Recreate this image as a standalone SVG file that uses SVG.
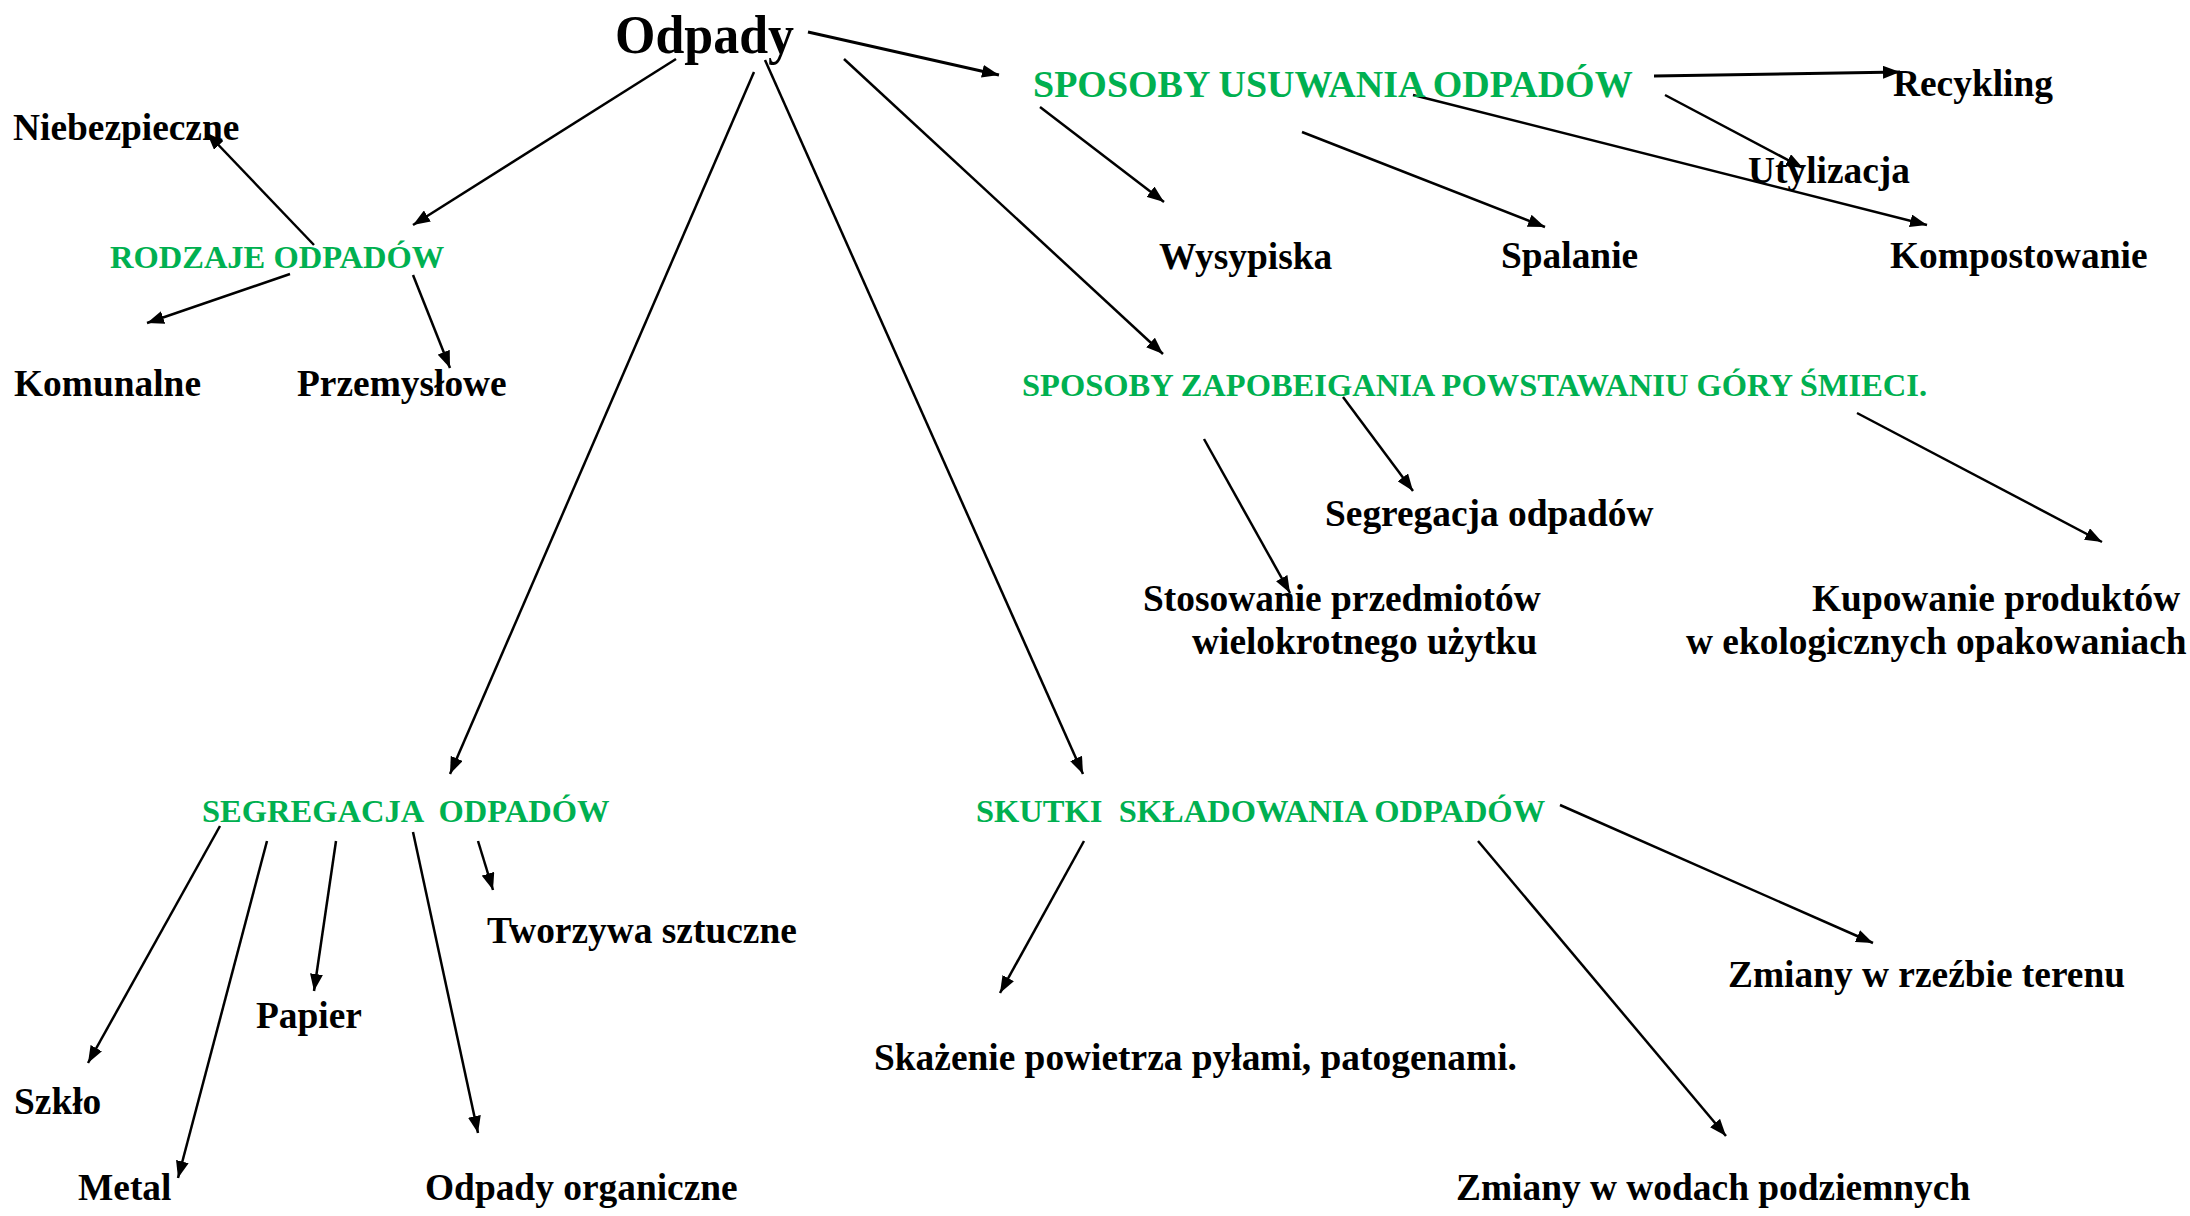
<svg xmlns="http://www.w3.org/2000/svg" width="2190" height="1216" viewBox="0 0 2190 1216">
<style>
text{font-family:"Liberation Serif","Times New Roman",serif;font-weight:bold}
.lbl{font-size:37.4px;fill:#000}
.hd{font-size:32.5px;fill:#00B050}
.hdl{font-size:38px;fill:#00B050}
.c line{stroke:#000;stroke-width:2.5;marker-end:url(#ah)}
.c line.t{stroke-width:3}
</style>
<defs>
<marker id="ah" markerUnits="userSpaceOnUse" markerWidth="17" markerHeight="13" refX="17" refY="6.5" orient="auto">
<path d="M0,0 L17,6.5 L0,13 z" fill="#000"/>
</marker>
</defs>
<rect width="2190" height="1216" fill="#fff"/>
<g id="connectors" class="c">
<line class="t" x1="808" y1="32" x2="999" y2="75"/>
<line x1="676" y1="59" x2="413" y2="225"/>
<line x1="754" y1="72" x2="450" y2="774"/>
<line x1="765" y1="60" x2="1083" y2="774"/>
<line x1="844" y1="59" x2="1163" y2="354"/>
<line x1="314" y1="245" x2="207" y2="133"/>
<line x1="290" y1="274" x2="147" y2="323"/>
<line x1="413" y1="275" x2="450" y2="368"/>
<line class="t" x1="1654" y1="76" x2="1900" y2="72"/>
<line x1="1665" y1="95" x2="1803" y2="168"/>
<line x1="1413" y1="95" x2="1927" y2="225"/>
<line x1="1040" y1="107" x2="1164" y2="202"/>
<line x1="1302" y1="132" x2="1545" y2="227"/>
<line x1="1343" y1="397" x2="1413" y2="491"/>
<line x1="1204" y1="439" x2="1290" y2="593"/>
<line x1="1857" y1="413" x2="2102" y2="542"/>
<line x1="220" y1="826" x2="88" y2="1063"/>
<line x1="267" y1="841" x2="178" y2="1178"/>
<line x1="336" y1="841" x2="314" y2="991"/>
<line x1="413" y1="832" x2="478" y2="1133"/>
<line x1="478" y1="841" x2="493" y2="890"/>
<line x1="1084" y1="841" x2="1000" y2="993"/>
<line x1="1478" y1="841" x2="1726" y2="1136"/>
<line x1="1560" y1="805" x2="1873" y2="943"/>
</g>
<g id="odpady"><text x="615" y="53" font-size="55" textLength="179" lengthAdjust="spacingAndGlyphs">Odpady</text></g>
<g id="rodzaje"><text class="hd" x="110" y="268">RODZAJE ODPADÓW</text></g>
<g id="niebezpieczne"><text class="lbl" x="13" y="140">Niebezpieczne</text></g>
<g id="komunalne"><text class="lbl" x="14" y="396">Komunalne</text></g>
<g id="przemyslowe"><text class="lbl" x="297" y="396">Przemysłowe</text></g>
<g id="usuwanie"><text class="hdl" x="1033" y="97">SPOSOBY USUWANIA ODPADÓW</text></g>
<g id="recykling"><text class="lbl" x="1893" y="96">Recykling</text></g>
<g id="utylizacja"><text class="lbl" x="1748" y="183">Utylizacja</text></g>
<g id="wysypiska"><text class="lbl" x="1159" y="269">Wysypiska</text></g>
<g id="spalanie"><text class="lbl" x="1501" y="268">Spalanie</text></g>
<g id="kompostowanie"><text class="lbl" x="1890" y="268">Kompostowanie</text></g>
<g id="zapobieganie"><text class="hd" x="1022" y="396">SPOSOBY ZAPOBEIGANIA POWSTAWANIU GÓRY ŚMIECI.</text></g>
<g id="segregacja-odpadow"><text class="lbl" x="1325" y="526">Segregacja odpadów</text></g>
<g id="stosowanie"><text class="lbl" x="1143" y="611">Stosowanie przedmiotów</text><text class="lbl" x="1192" y="654">wielokrotnego użytku</text></g>
<g id="kupowanie"><text class="lbl" x="1812" y="611">Kupowanie produktów</text><text class="lbl" x="1686" y="654">w ekologicznych opakowaniach</text></g>
<g id="segregacja"><text class="hd" x="202" y="822" xml:space="preserve">SEGREGACJA  ODPADÓW</text></g>
<g id="tworzywa"><text class="lbl" x="487" y="943">Tworzywa sztuczne</text></g>
<g id="papier"><text class="lbl" x="256" y="1028">Papier</text></g>
<g id="szklo"><text class="lbl" x="14" y="1114">Szkło</text></g>
<g id="metal"><text class="lbl" x="78" y="1200">Metal</text></g>
<g id="organiczne"><text class="lbl" x="425" y="1200">Odpady organiczne</text></g>
<g id="skutki"><text class="hd" x="976" y="822" xml:space="preserve">SKUTKI  SKŁADOWANIA ODPADÓW</text></g>
<g id="skazenie"><text class="lbl" x="874" y="1070">Skażenie powietrza pyłami, patogenami.</text></g>
<g id="rzezba"><text class="lbl" x="1728" y="987">Zmiany w rzeźbie terenu</text></g>
<g id="wody"><text class="lbl" x="1456" y="1200">Zmiany w wodach podziemnych</text></g>
</svg>
